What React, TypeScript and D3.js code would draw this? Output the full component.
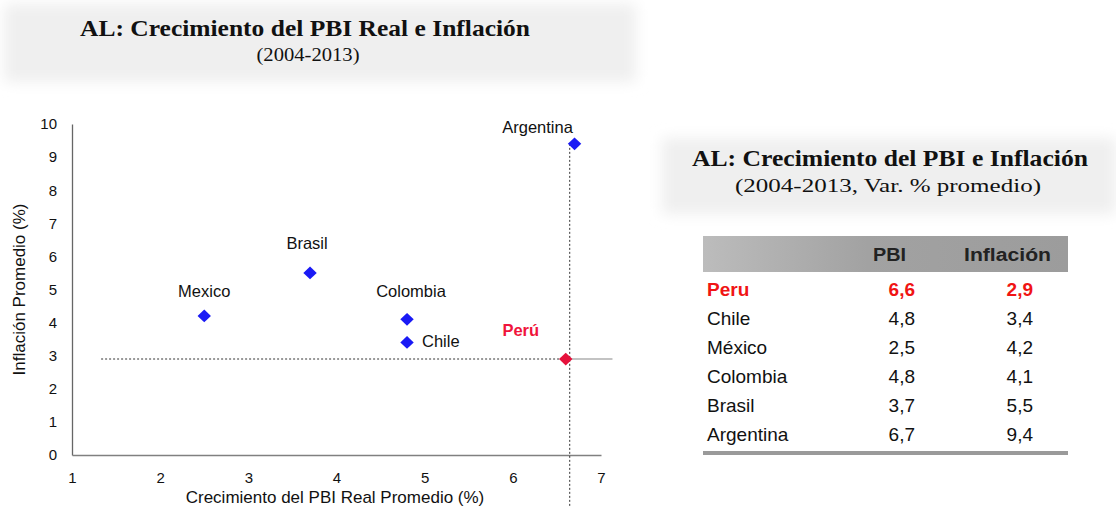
import React, { useRef, useEffect } from 'react'
import * as d3 from 'd3'

// chart points (labels as written in the scatter)
const pointLabels = ['Perú', 'Chile', 'Mexico', 'Colombia', 'Brasil', 'Argentina']
// table rows
const tableNames = ['Peru', 'Chile', 'México', 'Colombia', 'Brasil', 'Argentina']
const pbi = [6.6, 4.8, 2.5, 4.8, 3.7, 6.7]
const inflacion = [2.9, 3.4, 4.2, 4.1, 5.5, 9.4]
const xTicks = [1, 2, 3, 4, 5, 6, 7]
const yTicks = [0, 1, 2, 3, 4, 5, 6, 7, 8, 9, 10]
const tableHeaders = ['PBI', 'Inflación']

const W = 1116
const H = 506
const SANS = '"Liberation Sans", Arial, sans-serif'
const SERIF = '"Liberation Serif", "Times New Roman", serif'

export default function App() {
  const ref = useRef<SVGSVGElement | null>(null)

  useEffect(() => {
    const el = ref.current
    if (!el) return
    const svg = d3.select(el)
    svg.selectAll('*').remove()

    const defs = svg.append('defs')
    defs.append('filter').attr('id', 'soft').attr('x', '-10%').attr('y', '-30%').attr('width', '120%').attr('height', '160%')
      .append('feGaussianBlur').attr('stdDeviation', 7)
    const hg = defs.append('linearGradient').attr('id', 'hdr').attr('x1', 0).attr('x2', 1)
    hg.append('stop').attr('offset', 0).attr('stop-color', '#bcbcbc')
    hg.append('stop').attr('offset', 0.45).attr('stop-color', '#a2a2a2')
    hg.append('stop').attr('offset', 1).attr('stop-color', '#9c9c9c')

    // title backgrounds
    svg.append('rect').attr('x', 4).attr('y', 4).attr('width', 632).attr('height', 78)
      .attr('fill', '#efefef').attr('filter', 'url(#soft)')
    svg.append('rect').attr('x', 662).attr('y', 138).attr('width', 454).attr('height', 76)
      .attr('fill', '#efefef').attr('filter', 'url(#soft)')

    // titles
    const title = (tx: number, ty: number, size: number, bold: boolean, len: number, s: string) =>
      svg.append('text').attr('x', tx).attr('y', ty).attr('text-anchor', 'middle')
        .attr('font-family', SERIF).attr('font-weight', bold ? 'bold' : 'normal').attr('font-size', size)
        .attr('fill', '#111').attr('textLength', len).attr('lengthAdjust', 'spacingAndGlyphs').text(s)
    title(305, 36, 23, true, 450, 'AL: Crecimiento del PBI Real e Inflación')
    title(308, 61, 18, false, 103, '(2004-2013)')
    title(890, 166, 23, true, 396, 'AL: Crecimiento del PBI e Inflación')
    title(888, 192, 18, false, 306, '(2004-2013, Var. % promedio)')

    // scatter
    const x = d3.scaleLinear().domain([1, 7]).range([72, 601])
    const y = d3.scaleLinear().domain([0, 10]).range([455, 124])

    const yAxis = d3.axisLeft(y).tickValues(yTicks).tickSize(0).tickPadding(15).tickFormat(d3.format('d'))
    const gy = svg.append('g').attr('transform', `translate(${x(1)},0)`).call(yAxis)
    gy.select('.domain').attr('stroke', '#666').attr('stroke-width', 1.3)
    gy.selectAll('text').attr('font-family', SANS).attr('font-size', 15).attr('fill', '#111')

    const xAxis = d3.axisBottom(x).tickValues(xTicks).tickSize(0).tickPadding(17).tickFormat(d3.format('d'))
    const gx = svg.append('g').attr('transform', `translate(0,${y(0)})`).call(xAxis)
    gx.select('.domain').attr('stroke', '#808080').attr('stroke-width', 1.3)
    gx.selectAll('text').attr('font-family', SANS).attr('font-size', 15).attr('fill', '#111')

    svg.append('text').attr('x', 335).attr('y', 503).attr('text-anchor', 'middle')
      .attr('font-family', SANS).attr('font-size', 17).attr('fill', '#111')
      .text('Crecimiento del PBI Real Promedio (%)')
    svg.append('text').attr('transform', `translate(25,${y(5)}) rotate(-90)`).attr('text-anchor', 'middle')
      .attr('font-family', SANS).attr('font-size', 17).attr('fill', '#111')
      .text('Inflación Promedio (%)')

    // reference lines through Peru
    const px = x(pbi[0]) + 4
    const py = y(inflacion[0])
    svg.append('line').attr('x1', x(1.33)).attr('x2', x(6.6)).attr('y1', py).attr('y2', py)
      .attr('stroke', '#333').attr('stroke-width', 1).attr('stroke-dasharray', '2,2')
    svg.append('line').attr('x1', x(6.6)).attr('x2', x(7.13)).attr('y1', py).attr('y2', py)
      .attr('stroke', '#888').attr('stroke-width', 1.2)
    svg.append('line').attr('x1', px).attr('x2', px).attr('y1', y(inflacion[5])).attr('y2', H)
      .attr('stroke', '#333').attr('stroke-width', 1).attr('stroke-dasharray', '2,2')

    const diamond = d3.symbol().type(d3.symbolSquare).size(90)
    const pts = pbi.map((v, i) => ({ x: v, y: inflacion[i], label: pointLabels[i] }))
    svg.append('g').selectAll('path').data(pts).join('path')
      .attr('d', diamond)
      .attr('transform', d => `translate(${x(d.x)},${y(d.y)}) scale(1,0.95) rotate(45)`)
      .attr('fill', (d, i) => i === 0 ? '#e6123c' : '#1a1af5')

    // point labels
    const labelPos: Record<string, [number, number, string]> = {
      'Perú': [-45, -23, 'middle'],
      'Chile': [15, 5, 'start'],
      'Mexico': [0, -19, 'middle'],
      'Colombia': [4, -22, 'middle'],
      'Brasil': [-3, -24, 'middle'],
      'Argentina': [-37, -11, 'middle'],
    }
    svg.append('g').selectAll('text').data(pts).join('text')
      .attr('x', d => x(d.x) + labelPos[d.label][0])
      .attr('y', d => y(d.y) + labelPos[d.label][1])
      .attr('text-anchor', d => labelPos[d.label][2])
      .attr('font-family', SANS).attr('font-size', 16.5)
      .attr('font-weight', d => d.label === 'Perú' ? 'bold' : 'normal')
      .attr('fill', d => d.label === 'Perú' ? '#f0143c' : '#111')
      .text(d => d.label)

    // table
    const tx0 = 703, tx1 = 1068
    const rows = d3.scaleBand().domain(tableNames).range([275, 448])
    svg.append('rect').attr('x', tx0).attr('y', 236).attr('width', tx1 - tx0).attr('height', 36).attr('fill', 'url(#hdr)')
    const colRight = [906, 1051]
    tableHeaders.forEach((h, i) => {
      svg.append('text').attr('x', colRight[i]).attr('y', 261).attr('text-anchor', 'end')
        .attr('font-family', SANS).attr('font-weight', 'bold').attr('font-size', 18).attr('fill', '#222')
        .attr('textLength', i === 0 ? 33 : 87).attr('lengthAdjust', 'spacingAndGlyphs').text(h)
    })
    const fmt = (v: number) => v.toFixed(1).replace('.', ',')
    const valRight = [915, 1033]
    const trows = svg.append('g').selectAll('g').data(tableNames).join('g')
      .attr('transform', d => `translate(0,${(rows(d) ?? 0) + rows.bandwidth() / 2 + 7})`)
    trows.each(function (name, i) {
      const g = d3.select(this)
      const red = i === 0
      const common = (s: any) => s.attr('font-family', SANS).attr('font-size', 19)
        .attr('font-weight', red ? 'bold' : 'normal').attr('fill', red ? '#f01414' : '#111')
      common(g.append('text').attr('x', 707).text(name))
      common(g.append('text').attr('x', valRight[0]).attr('text-anchor', 'end').text(fmt(pbi[i])))
      common(g.append('text').attr('x', valRight[1]).attr('text-anchor', 'end').text(fmt(inflacion[i])))
    })
    svg.append('rect').attr('x', tx0).attr('y', 451).attr('width', tx1 - tx0).attr('height', 4).attr('fill', '#9a9a9a')
  }, [])

  return (
    <svg ref={ref} width={W} height={H} style={{ position: 'absolute', left: 0, top: 0, background: '#fff' }} />
  )
}
